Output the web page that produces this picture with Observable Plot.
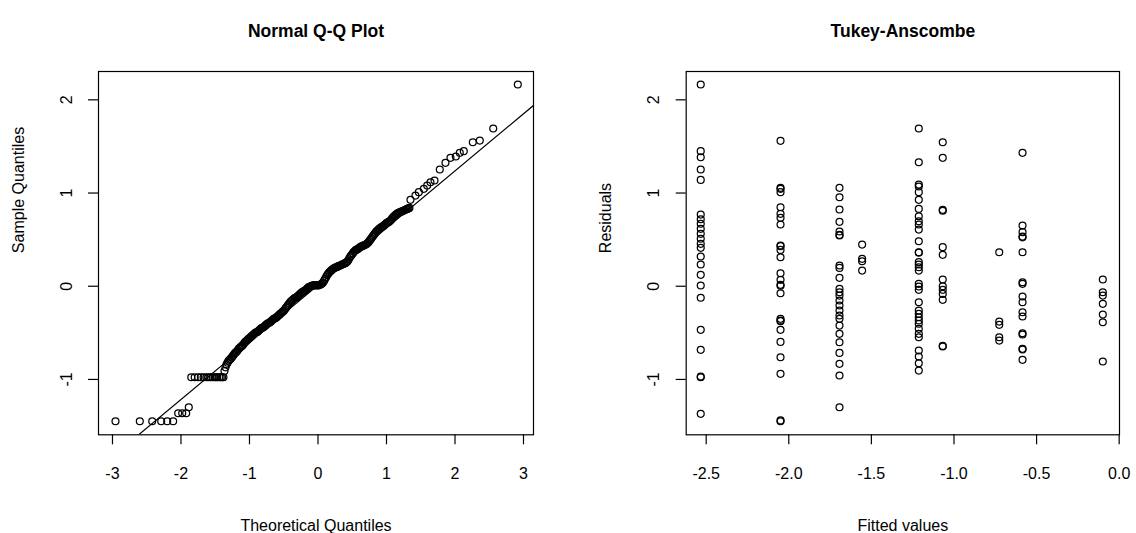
<!DOCTYPE html>
<html><head><meta charset="utf-8">
<script src="https://cdn.jsdelivr.net/npm/d3@7"></script>
<script src="https://cdn.jsdelivr.net/npm/@observablehq/plot@0.6"></script>
<style>
html,body{margin:0;padding:0;background:#fff;}
#wrap{display:flex;width:1136px;height:533px;}
#wrap svg{display:block;}
</style></head><body><div id="wrap"></div>
<script>
// ---------- Normal Q-Q plot (positions) ----------
const qqTailTheo = [-2.956,-2.601,-2.42,-2.289,-2.201,-2.114,-2.041,-1.982,-1.924,-1.886,
  -1.85,-1.80,-1.75,-1.71,-1.67,-1.63,-1.60,-1.57,-1.54,-1.51,-1.49,-1.47,-1.44,-1.42,-1.40,-1.38];
const qqTailSample = [-1.449,-1.449,-1.449,-1.449,-1.449,-1.449,-1.363,-1.363,-1.363,-1.298,
  -0.976,-0.976,-0.976,-0.976,-0.976,-0.976,-0.976,-0.976,-0.976,-0.976,-0.976,-0.976,-0.976,-0.976,-0.976,-0.976];
const qqBodyTheo = [
  -1.365,-1.35,-1.335,-1.32,-1.305,-1.29,-1.275,-1.26,-1.245,-1.23,-1.215,-1.20,-1.185,-1.17,-1.155,-1.14,-1.125,-1.11,-1.095,-1.08,
  -1.065,-1.05,-1.035,-1.02,-1.005,-0.99,-0.975,-0.96,-0.945,-0.93,-0.915,-0.90,-0.885,-0.87,-0.855,-0.84,-0.825,-0.81,-0.795,-0.78,
  -0.765,-0.75,-0.735,-0.72,-0.705,-0.69,-0.675,-0.66,-0.645,-0.63,-0.615,-0.60,-0.585,-0.57,-0.555,-0.54,-0.525,-0.51,-0.495,-0.48,
  -0.465,-0.45,-0.435,-0.42,-0.405,-0.39,-0.375,-0.36,-0.345,-0.33,-0.315,-0.30,-0.285,-0.27,-0.255,-0.24,-0.225,-0.21,-0.195,-0.18,
  -0.165,-0.15,-0.135,-0.12,-0.105,-0.09,-0.075,-0.06,-0.045,-0.03,-0.015,0.0,0.015,0.03,0.045,0.06,0.075,0.09,0.105,0.12,
  0.135,0.15,0.165,0.18,0.195,0.21,0.225,0.24,0.255,0.27,0.285,0.30,0.315,0.33,0.345,0.36,0.375,0.39,0.405,0.42,
  0.435,0.45,0.465,0.48,0.495,0.51,0.525,0.54,0.555,0.57,0.585,0.60,0.615,0.63,0.645,0.66,0.675,0.69,0.705,0.72,
  0.735,0.75,0.765,0.78,0.795,0.81,0.825,0.84,0.855,0.87,0.885,0.90,0.915,0.93,0.945,0.96,0.975,0.99,1.005,1.02,
  1.035,1.05,1.065,1.08,1.095,1.11,1.125,1.14,1.155,1.17,1.185,1.20,1.215,1.23,1.245,1.26,1.275,1.29,1.305,1.32,1.335
];
const qqBodySample = [
  -0.91,-0.87,-0.84,-0.82,-0.80,-0.79,-0.78,-0.765,-0.75,-0.735,-0.72,-0.71,-0.70,-0.685,-0.67,-0.66,-0.65,-0.64,-0.63,-0.615,
  -0.60,-0.59,-0.58,-0.57,-0.56,-0.55,-0.54,-0.53,-0.52,-0.51,-0.50,-0.495,-0.49,-0.48,-0.47,-0.46,-0.45,-0.445,-0.44,-0.43,
  -0.42,-0.41,-0.40,-0.395,-0.39,-0.38,-0.37,-0.36,-0.35,-0.345,-0.34,-0.33,-0.32,-0.31,-0.30,-0.29,-0.28,-0.27,-0.26,-0.245,
  -0.23,-0.215,-0.20,-0.185,-0.17,-0.16,-0.15,-0.14,-0.13,-0.125,-0.12,-0.11,-0.10,-0.09,-0.08,-0.07,-0.06,-0.055,-0.05,-0.04,
  -0.03,-0.02,-0.01,-0.005,0.00,0.005,0.01,0.01,0.01,0.01,0.01,0.01,0.01,0.015,0.02,0.03,0.04,0.06,0.08,0.10,
  0.12,0.135,0.15,0.16,0.17,0.18,0.19,0.195,0.20,0.205,0.21,0.215,0.22,0.225,0.23,0.235,0.24,0.245,0.25,0.26,
  0.27,0.29,0.31,0.325,0.34,0.355,0.37,0.38,0.39,0.395,0.40,0.41,0.42,0.425,0.43,0.435,0.44,0.445,0.45,0.46,
  0.47,0.485,0.50,0.515,0.53,0.545,0.56,0.575,0.59,0.60,0.61,0.62,0.63,0.635,0.64,0.65,0.66,0.67,0.68,0.685,
  0.69,0.70,0.71,0.725,0.74,0.75,0.76,0.77,0.78,0.785,0.79,0.795,0.80,0.805,0.81,0.815,0.82,0.825,0.83,0.835,0.84
];
const qqTopTheo = [1.35,1.423,1.472,1.545,1.594,1.642,1.701,1.778,1.861,1.934,2.012,2.07,2.128,2.26,2.362,2.558,2.917];
const qqTopSample = [0.927,0.973,1.009,1.045,1.080,1.116,1.134,1.252,1.324,1.378,1.392,1.431,1.449,1.545,1.563,1.692,2.164];
const qqIntercept = 0.011;
const qqSlope = 0.613;

// ---------- Tukey-Anscombe plot ----------
const fittedLevels = [-2.533, -2.050, -1.693, -1.556, -1.213, -1.068, -0.726, -0.585, -0.099];
const resGroup1 = [2.164,1.449,1.384,1.252,1.141,0.769,0.719,0.670,0.616,0.562,0.509,0.455,0.412,0.319,0.233,0.122,0.008,-0.124,-0.468,-0.682,-0.976,-0.968,-1.369];
const resGroup2 = [1.56,1.056,1.045,1.009,0.848,0.777,0.734,0.662,0.437,0.43,0.39,0.311,0.139,0.069,0.015,0.005,-0.075,-0.35,-0.368,-0.375,-0.468,-0.597,-0.762,-0.94,-1.449,-1.44];
const resGroup3 = [1.056,0.955,0.823,0.691,0.587,0.551,0.545,0.222,0.197,0.09,-0.028,-0.064,-0.1,-0.153,-0.207,-0.261,-0.314,-0.35,-0.422,-0.511,-0.601,-0.715,-0.833,-0.958,-1.298];
const resGroup4 = [0.447,0.294,0.268,0.168];
const resGroup5 = [1.692,1.33,1.091,1.07,1.009,0.927,0.83,0.751,0.697,0.662,0.608,0.483,0.365,0.36,0.258,0.233,0.204,0.168,0.026,-0.003,-0.039,-0.172,-0.261,-0.296,-0.333,-0.368,-0.403,-0.457,-0.511,-0.547,-0.69,-0.754,-0.826,-0.905];
const resGroup6 = [1.545,1.378,0.82,0.81,0.419,0.337,0.072,0.0,-0.039,-0.082,-0.146,-0.647,-0.64];
const resGroup7 = [0.365,-0.379,-0.414,-0.547,-0.583];
const resGroup8 = [1.431,0.651,0.58,0.533,0.525,0.365,0.043,0.026,-0.11,-0.172,-0.279,-0.325,-0.504,-0.518,-0.679,-0.672,-0.79];
const resGroup9 = [0.072,-0.064,-0.1,-0.189,-0.304,-0.386,-0.808];

// ---------- ticks / labels ----------
const xTicksL = [-3,-2,-1,0,1,2,3];
const xLabelsL = ["-3","-2","-1","0","1","2","3"];
const xTicksR = [-2.5,-2.0,-1.5,-1.0,-0.5,0.0];
const xLabelsR = ["-2.5","-2.0","-1.5","-1.0","-0.5","0.0"];
const yTicks = [-1,0,1,2];
const yLabels = ["-1","0","1","2"];

const FONT = "'Liberation Sans', Arial, Helvetica, sans-serif";
const yDomain = [-1.594, 2.304];
const xDomainL = [-3.204, 3.146];
const xDomainR = [-2.621, 0.002];
const DOT = {r: 3.45, stroke: "black", strokeWidth: 1.25, fill: "none"};

const qqRows = [
  ...qqTailTheo.map((t, i) => ({t, s: qqTailSample[i]})),
  ...qqBodyTheo.map((t, i) => ({t, s: qqBodySample[i]})),
  ...qqTopTheo.map((t, i) => ({t, s: qqTopSample[i]}))
];
const lineRows = xDomainL.map(x => ({x, y: qqIntercept + qqSlope * x}));
const groups = [resGroup1,resGroup2,resGroup3,resGroup4,resGroup5,resGroup6,resGroup7,resGroup8,resGroup9];
const taRows = groups.flatMap((g, k) => g.map(r => ({f: fittedLevels[k], r})));

function panel({width, mL, mR, xDomain, xTicks, xLabels, title, xTitle, yTitle, marks}) {
  return Plot.plot({
    width, height: 533,
    marginLeft: mL, marginRight: mR, marginTop: 71, marginBottom: 98.7,
    x: {domain: xDomain},
    y: {domain: yDomain},
    style: {fontFamily: FONT, fontSize: "16px", color: "black", background: "white", overflow: "visible"},
    marks: [
      ...marks,
      Plot.frame({stroke: "black", strokeWidth: 1.2}),
      Plot.axisX({ticks: xTicks, tickSize: 10, tickFormat: () => "", label: null, strokeWidth: 1.2}),
      Plot.axisY({ticks: yTicks, tickSize: 10, tickFormat: () => "", label: null, strokeWidth: 1.2}),
      Plot.text(xTicks, {x: d => d, text: (d, i) => xLabels[i], frameAnchor: "bottom", dy: 39, lineAnchor: "middle", textAnchor: "middle", fontSize: 16, fill: "black"}),
      Plot.text(yTicks, {y: d => d, text: (d, i) => yLabels[i], frameAnchor: "left", dx: -32, rotate: -90, lineAnchor: "middle", textAnchor: "middle", fontSize: 16, fill: "black"}),
      Plot.text([title], {text: d => d, frameAnchor: "top", dy: -40, fontWeight: "bold", fontSize: 17.5, lineAnchor: "middle", fill: "black"}),
      Plot.text([xTitle], {text: d => d, frameAnchor: "bottom", dy: 91, fontSize: 16, lineAnchor: "middle", fill: "black"}),
      Plot.text([yTitle], {text: d => d, frameAnchor: "left", dx: -80, rotate: -90, fontSize: 16, lineAnchor: "middle", fill: "black"})
    ]
  });
}

const left = panel({
  width: 568, mL: 98, mR: 35, xDomain: xDomainL, xTicks: xTicksL, xLabels: xLabelsL,
  title: "Normal Q-Q Plot", xTitle: "Theoretical Quantiles", yTitle: "Sample Quantiles",
  marks: [
    Plot.dot(qqRows, {x: "t", y: "s", ...DOT}),
    Plot.line(lineRows, {x: "x", y: "y", stroke: "black", strokeWidth: 1.2, clip: true})
  ]
});

const right = panel({
  width: 568, mL: 117.7, mR: 17, xDomain: xDomainR, xTicks: xTicksR, xLabels: xLabelsR,
  title: "Tukey-Anscombe", xTitle: "Fitted values", yTitle: "Residuals",
  marks: [
    Plot.dot(taRows, {x: "f", y: "r", ...DOT})
  ]
});

const wrap = document.getElementById("wrap");
wrap.appendChild(left);
wrap.appendChild(right);
</script></body></html>
